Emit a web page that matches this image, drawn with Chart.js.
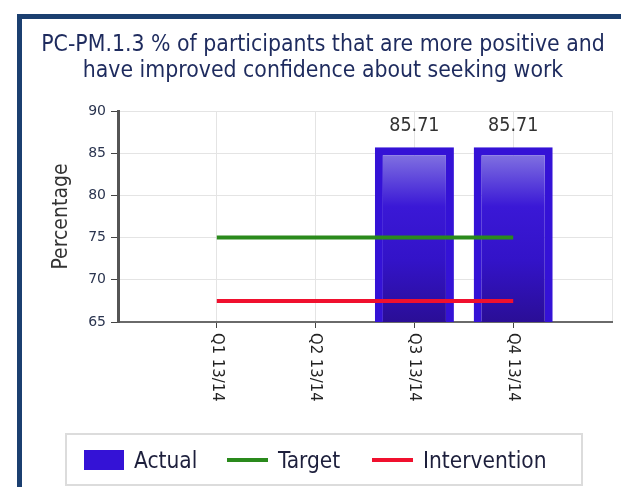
<!DOCTYPE html>
<html>
<head>
<meta charset="utf-8">
<script src="https://cdn.jsdelivr.net/npm/chart.js@4.4.1/dist/chart.umd.min.js"></script>
<style>
  html, body { margin: 0; padding: 0; background: #fff; overflow: hidden; }
  #wrap { position: relative; width: 621px; height: 487px; }
  #frame { position: absolute; left: 17px; top: 14px; width: 700px; height: 600px;
           border-left: 5px solid #1b3f70; border-top: 5px solid #1b3f70; }
  #chart { position: absolute; left: 0; top: 0; }
  #legend { position: absolute; left: 65px; top: 433px; width: 514px; height: 49px;
            border: 2px solid #dcdcdc; font-family: "DejaVu Sans Condensed", "DejaVu Sans", sans-serif;
            font-size: 22.5px; color: #1d1f3c; }
  #legend .item { position: absolute; top: 0; height: 49px; display: flex; align-items: center; }
  #legend .sw { display: inline-block; margin-right: 10px; }
</style>
</head>
<body>
<div id="wrap">
  <div id="frame"></div>
  <canvas id="chart" width="621" height="487"></canvas>
  <div id="legend"></div>
</div>
<script>
// DATA
const title_lines = ["PC-PM.1.3 % of participants that are more positive and",
                     "have improved confidence about seeking work"];
const quarters = ["", "Q1 13/14", "Q2 13/14", "Q3 13/14", "Q4 13/14", ""];
const actual = [null, null, null, 85.71, 85.71, null];
const target = [null, 75, 75, 75, 75, null];
const intervention = [null, 67.5, 67.5, 67.5, 67.5, null];
const y_ticks_min = 65, y_ticks_max = 90, y_step = 5;

const FONT = '"DejaVu Sans Condensed", "DejaVu Sans", sans-serif';

const ctx = document.getElementById("chart").getContext("2d");

// bar fill: light top fading into deep blue
function barFill(context) {
  const chart = context.chart;
  if (!chart.chartArea || context.raw == null) return "#3412d2";
  const y = chart.scales.y;
  const top = y.getPixelForValue(context.raw);
  const bottom = y.getPixelForValue(y.min);
  const g = chart.ctx.createLinearGradient(0, top, 0, bottom);
  g.addColorStop(0, "#8a7de2");
  g.addColorStop(0.34, "#3a18d6");
  g.addColorStop(0.65, "#3313c8");
  g.addColorStop(1, "#2a0e96");
  return g;
}

// value labels above bars
const valueLabels = {
  id: "valueLabels",
  afterDatasetsDraw(chart) {
    const c = chart.ctx;
    const meta = chart.getDatasetMeta(0);
    c.save();
    c.font = "19.5px " + FONT;
    c.fillStyle = "#333";
    c.textAlign = "center";
    c.textBaseline = "middle";
    meta.data.forEach((bar, i) => {
      const v = chart.data.datasets[0].data[i];
      if (v == null) return;
      c.fillText(v.toFixed(2), bar.x, bar.y - 21);
    });
    c.restore();
  },
};

// x labels rotated clockwise, reading downward
const downLabels = {
  id: "downLabels",
  afterDraw(chart) {
    const c = chart.ctx;
    const x = chart.scales.x;
    c.save();
    c.font = "16.5px " + FONT;
    c.fillStyle = "#222";
    c.textAlign = "left";
    c.textBaseline = "middle";
    chart.data.labels.forEach((lab, i) => {
      if (!lab) return;
      c.save();
      c.translate(x.getPixelForTick(i), x.top + 11);
      c.rotate(Math.PI / 2);
      c.fillText(lab, 0, 0);
      c.restore();
    });
    c.restore();
  },
};

const my_chart = new Chart(ctx, {
  data: {
    labels: quarters,
    datasets: [
      {
        type: "bar",
        label: "Actual",
        data: actual,
        backgroundColor: barFill,
        borderColor: "#3412d6",
        borderWidth: { top: 8, left: 8, right: 8, bottom: 5 },
        borderSkipped: false,
        categoryPercentage: 0.8,
        barPercentage: 1,
        order: 2,
      },
      {
        type: "line",
        label: "Target",
        data: target,
        borderColor: "#2a8a1c",
        backgroundColor: "#2a8a1c",
        borderWidth: 4,
        pointRadius: 0,
        order: 1,
      },
      {
        type: "line",
        label: "Intervention",
        data: intervention,
        borderColor: "#f0102e",
        backgroundColor: "#f0102e",
        borderWidth: 4,
        pointRadius: 0,
        order: 0,
      },
    ],
  },
  options: {
    responsive: false,
    animation: false,
    layout: { padding: { left: 34, right: 9, top: 32, bottom: 0 } },
    plugins: {
      legend: { display: false },
      tooltip: { enabled: false },
      title: {
        display: true,
        text: title_lines,
        color: "#1e2b5e",
        font: { family: FONT, size: 22.8, weight: "normal", lineHeight: "26px" },
        padding: { top: 0, bottom: 27 },
      },
    },
    scales: {
      x: {
        type: "category",
        offset: false,
        grid: {
          offset: false,
          color: "#e4e4e4",
          tickColor: (c) => (quarters[c.index] ? "#444" : "transparent"),
          tickLength: 6,
        },
        border: { color: "#6a6a6a", width: 2 },
        ticks: { display: false, autoSkip: false },
        afterFit(scale) { scale.height = 165; },
      },
      y: {
        min: y_ticks_min,
        max: y_ticks_max,
        ticks: { stepSize: y_step, color: "#2b3550", padding: 5, font: { family: "DejaVu Sans", size: 14 } },
        grid: { color: "#e4e4e4", tickColor: "#444", tickLength: 7 },
        border: { color: "#555", width: 3 },
        title: {
          display: true,
          text: "Percentage",
          color: "#333",
          font: { family: FONT, size: 21 },
          padding: { top: 15, bottom: 0 },
        },
        afterFit(scale) { scale.width = 84; },
      },
    },
  },
  plugins: [valueLabels, downLabels],
});

// LEGEND
const legend_el = document.getElementById("legend");
const legend_x = [17, 160, 305];
my_chart.data.datasets.forEach((ds, i) => {
  const item = document.createElement("div");
  item.className = "item";
  item.style.left = legend_x[i] + "px";
  const sw = document.createElement("span");
  sw.className = "sw";
  if (ds.type === "bar") {
    sw.style.width = "40px"; sw.style.height = "20px"; sw.style.background = ds.borderColor;
  } else {
    sw.style.width = "41px"; sw.style.height = "4px"; sw.style.background = ds.borderColor;
  }
  item.appendChild(sw);
  item.appendChild(document.createTextNode(ds.label));
  legend_el.appendChild(item);
});
</script>
</body>
</html>
